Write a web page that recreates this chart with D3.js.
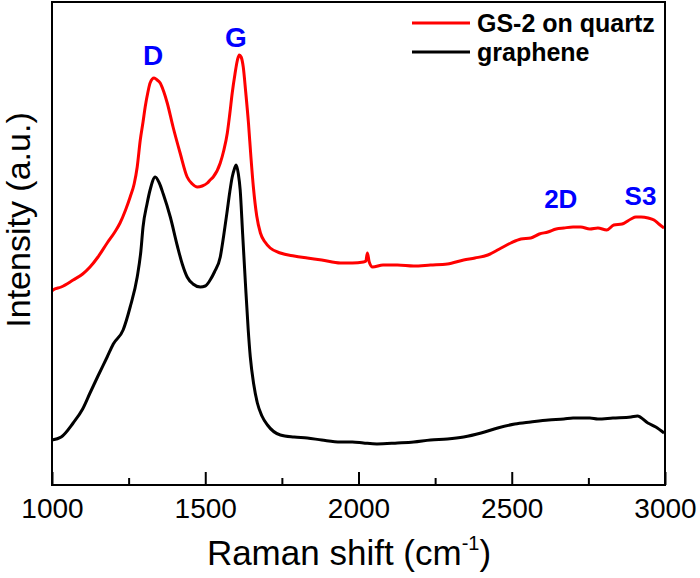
<!DOCTYPE html>
<html><head><meta charset="utf-8">
<script src="https://cdn.jsdelivr.net/npm/d3@7"></script>
<style>body{margin:0;background:#fff;} svg{display:block;font-family:Arial,"Liberation Sans",sans-serif;}</style>
</head><body>
<svg id="c" width="700" height="578"></svg>
<script>
// Raman shift (cm^-1)
const redShift = [1000,1003,1030,1069,1100,1124,1150,1180,1205,1222,1240,1255,1268,1278,1288,1297,1304,1313,1320,1333,1343,1353,1365,1376,1395,1418,1441,1458,1474,1490,1507,1516,1526,1549,1560,1572,1580,1588,1597,1605,1611,1617,1624,1632,1641,1649,1657,1668,1680,1695,1712,1745,1790,1833,1880,1941,1980,2016,2024,2029,2035,2046,2080,2127,2180,2235,2290,2343,2380,2422,2460,2497,2530,2562,2590,2618,2645,2670,2700,2725,2755,2781,2810,2833,2860,2889,2905,2922,2945,2964,2980,2997];
const redInt   = [193,194,197,204,210,217,227,241,252,261,274,287,300,317,344,362,377,392,401,406,404,401,392,381,357,331,307,300,297,298,301,304,307,321,333,351,370,391,410,424,429,427,417,392,361,327,297,268,251,242,236,231,228,226,224,221,221,222,223,231,222,217,219,219,218,219,220,224,226,229,235,241,245,246,250,252,255,256,257,257,255,256,254,259,260,265,267,267,266,264,260,256];
const blackShift = [1000,1030,1069,1100,1124,1150,1180,1200,1232,1255,1278,1290,1297,1310,1320,1337,1350,1363,1386,1409,1425,1441,1460,1484,1500,1516,1530,1549,1560,1572,1580,1588,1595,1601,1608,1614,1622,1631,1640,1647,1658,1670,1685,1703,1745,1790,1833,1880,1941,1980,2016,2060,2127,2180,2235,2290,2343,2400,2454,2510,2562,2620,2670,2700,2725,2755,2781,2830,2889,2910,2944,2970,2997];
const blackInt   = [44,47,61,75,91,108,127,140,154,177,207,233,257,280,294,307,301,290,267,238,220,207,200,197,198,204,212,227,248,274,292,307,315,319,310,294,250,201,155,127,100,81,68,59,49,47,46,44,42,42,41,40,41,42,44,45,47,51,56,60,62,64,65,66,66,66,65,66,67,68,61,57,51];
const seriesNames = ["GS-2 on quartz","graphene"];
const xTicks = [1000,1500,2000,2500,3000];
const xMinor = [1250,1750,2250,2750];
const peakLabels = ["D","G","2D","S3"];
const peakShift  = [1330,1600,2660,2920];
const peakInt    = [419,437,276,279];

const svg = d3.select("#c");
const L=52,R=665,T=2,B=485;
const x = d3.scaleLinear().domain([1000,3000]).range([L,R]);
const y = d3.scaleLinear().domain([0,482]).range([B-1,T]);

const line = d3.line().x(d=>x(d[0])).y(d=>y(d[1])).curve(d3.curveMonotoneX);
const red = redShift.map((s,i)=>[s,redInt[i]]);
const blk = blackShift.map((s,i)=>[s,blackInt[i]]);
svg.append("path").attr("d",line(blk)).attr("fill","none").attr("stroke","#000").attr("stroke-width",3).attr("stroke-linejoin","round");
svg.append("path").attr("d",line(red)).attr("fill","none").attr("stroke","#ff0000").attr("stroke-width",3).attr("stroke-linejoin","round");

// frame
svg.append("rect").attr("x",L).attr("y",T).attr("width",R-L).attr("height",B-T).attr("fill","none").attr("stroke","#000").attr("stroke-width",2);

// x axis ticks (inward)
const ax = svg.append("g").attr("transform",`translate(0,${B})`)
  .call(d3.axisBottom(x).tickValues(xTicks).tickSize(-13).tickPadding(13).tickFormat(d3.format("d")));
ax.select(".domain").remove();
ax.selectAll(".tick line").attr("stroke","#000").attr("stroke-width",2);
ax.selectAll(".tick text").attr("font-size",28).attr("fill","#000").attr("font-family","Arial,'Liberation Sans',sans-serif");
svg.append("g").attr("transform",`translate(0,${B})`)
  .call(d3.axisBottom(x).tickValues(xMinor).tickSize(-7).tickFormat(""))
  .call(g=>{g.select(".domain").remove();g.selectAll("line").attr("stroke","#000").attr("stroke-width",2);});

// axis titles
const xt = svg.append("text").attr("x",349).attr("y",565).attr("text-anchor","middle").attr("font-size",35).attr("fill","#000");
xt.append("tspan").text("Raman shift (cm");
xt.append("tspan").text("-1").attr("font-size",20).attr("dy",-15);
xt.append("tspan").text(")").attr("dy",15);
svg.append("text").attr("transform","translate(30,220) rotate(-90)").attr("text-anchor","middle").attr("font-size",34).attr("fill","#000").text("Intensity (a.u.)");

// peak labels
const pl = [{s:28},{s:28},{s:26},{s:26}];
peakLabels.forEach((t,i)=>{
  svg.append("text").attr("x",x(peakShift[i])).attr("y",y(peakInt[i])).attr("text-anchor","middle")
    .attr("font-size",pl[i].s).attr("font-weight","bold").attr("fill","#0000ff").text(t);
});

// legend
const legColors = ["#ff0000","#000"];
seriesNames.forEach((n,i)=>{
  const ly = 23 + i*29;
  svg.append("line").attr("x1",412).attr("x2",470).attr("y1",ly).attr("y2",ly).attr("stroke",legColors[i]).attr("stroke-width",3);
  svg.append("text").attr("x",477).attr("y",ly+9).attr("font-size",25).attr("font-weight","bold").attr("fill","#000").text(n);
});
</script>
</body></html>
